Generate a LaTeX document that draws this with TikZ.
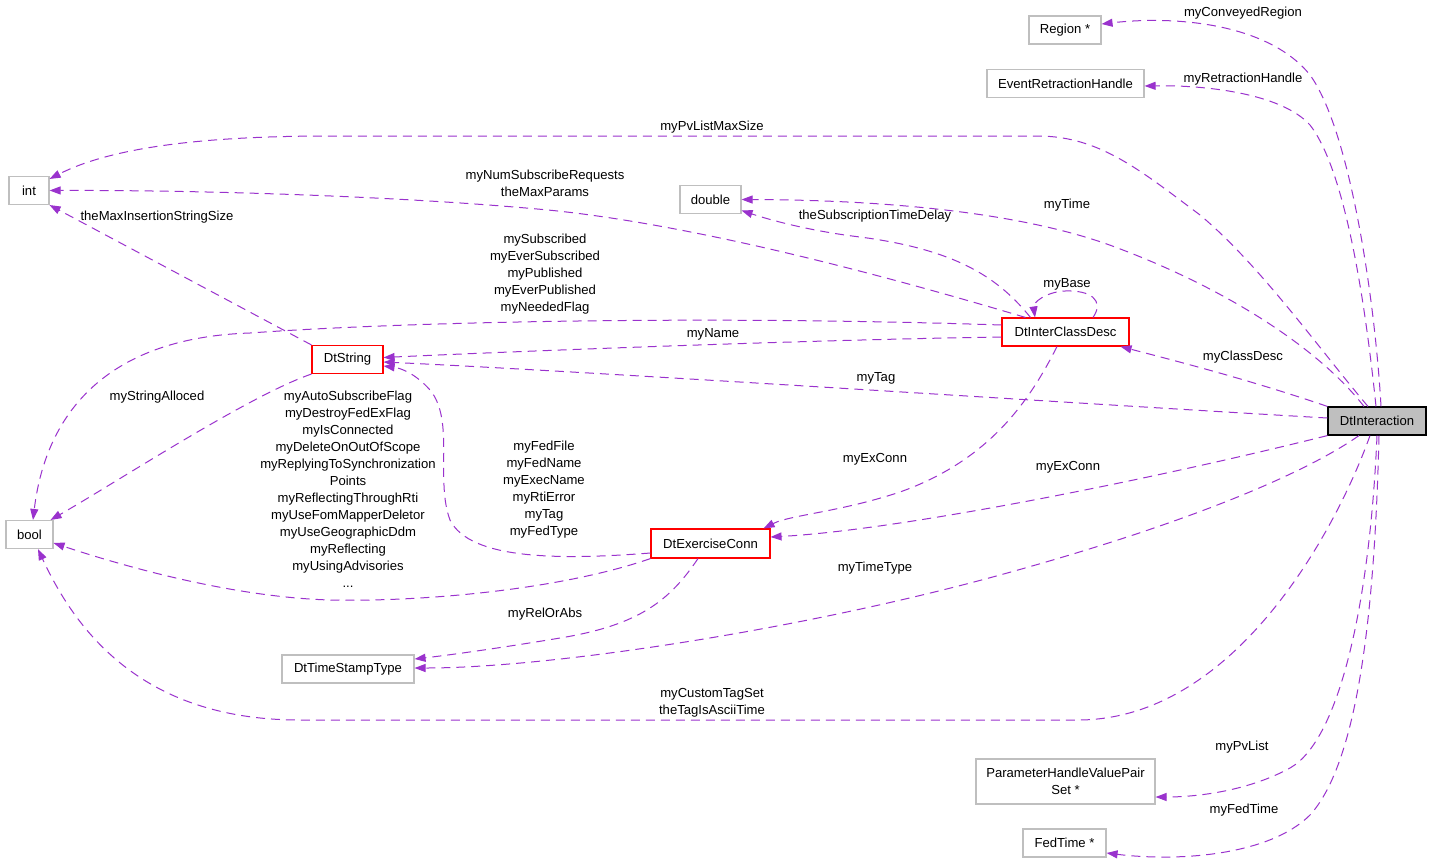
\documentclass[tikz,border=0pt]{standalone}
\usepackage{fontspec}
\setmainfont{Liberation Sans}
\usetikzlibrary{arrows.meta}
\definecolor{edgecol}{HTML}{9A32CD}
\definecolor{boxgrey}{HTML}{BFBFBF}
\begin{document}
\begin{tikzpicture}[x=1pt,y=-1pt,
  every node/.style={font=\fontsize{13.1}{17}\selectfont},
  box/.style={draw=boxgrey, line width=1.1pt, fill=white, inner sep=0pt, minimum height=28pt, align=center},
  redbox/.style={box, draw=red},
  mainbox/.style={box, draw=black, fill=boxgrey},
  lbl/.style={inner sep=0pt, align=center},
  rel/.style={draw=edgecol, line width=1pt, dash pattern=on 9pt off 6pt,
    -{Triangle[length=11pt,width=8pt,fill=edgecol]}}]
\useasboundingbox[fill=white] (0,0) rectangle (1432,865);

% nodes
\node[box, minimum width=72pt] (region) at (1065,30) {Region *};
\node[box, minimum width=157pt] (erh) at (1065.5,83.5) {EventRetractionHandle};
\node[box, minimum width=40pt] (int) at (29,190.5) {int};
\node[box, minimum width=61pt] (double) at (710.5,199.5) {double};
\node[redbox, minimum width=127pt] (dticd) at (1065.5,332) {DtInterClassDesc};
\node[redbox, minimum width=71pt] (dtstring) at (347.5,359.5) {DtString};
\node[mainbox, minimum width=98pt] (dti) at (1377,421) {DtInteraction};
\node[box, minimum width=47pt] (bool) at (29.5,534.5) {bool};
\node[redbox, minimum width=119pt, minimum height=29pt] (dtec) at (710.5,543.5) {DtExerciseConn};
\node[box, minimum width=132pt] (dtsst) at (348,669) {DtTimeStampType};
\node[box, minimum width=179pt, minimum height=45pt] (phvps) at (1065.5,781.5) {ParameterHandleValuePair\\Set *};
\node[box, minimum width=83pt] (fedtime) at (1064.5,843) {FedTime *};

% edges from DtInteraction
\draw[rel] ([xshift=4pt]dti.north) .. controls (1375,300) and (1350,130) .. (1310,75)
  .. controls (1270,25) and (1180,15) .. ([yshift=6pt]region.east);
\draw[rel] ([xshift=-1pt]dti.north) .. controls (1365,300) and (1345,170) .. (1310,125)
  .. controls (1280,92) and (1200,85) .. ([yshift=-2.5pt]erh.east);
\draw[rel] ([xshift=-9pt]dti.north) .. controls (1320,350) and (1260,265) .. (1200,215)
  .. controls (1140,170) and (1100,137) .. (1040,136) -- (330,136)
  .. controls (200,136) and (110,148) .. ([yshift=-3pt]int.north east);
\draw[rel] ([xshift=-13pt]dti.north) .. controls (1320,350) and (1230,290) .. (1115,247)
  .. controls (1030,215) and (900,200) .. (double.east);
\draw[rel] (dti.north west) .. controls (1250,380) and (1180,362) .. ([xshift=-9pt]dticd.south east);
\draw[rel] ([yshift=3pt]dti.west) .. controls (1100,405) and (600,372) .. ([yshift=-2.5pt]dtstring.east);
\draw[rel] (dti.south west) .. controls (1150,480) and (900,530) .. ([yshift=6.5pt]dtec.east);
\draw[rel] ([xshift=-18pt]dti.south) .. controls (1310,470) and (1200,520) .. (1000,575)
  .. controls (800,630) and (550,668) .. ([yshift=1pt]dtsst.east);
\draw[rel] ([xshift=-7pt]dti.south) .. controls (1340,520) and (1240,718) .. (1080,720) -- (300,720)
  .. controls (150,720) and (80,640) .. ([xshift=8.5pt]bool.south);
\draw[rel] (dti.south) .. controls (1370,600) and (1340,740) .. (1290,768)
  .. controls (1250,790) and (1200,797) .. ([yshift=-15.5pt]phvps.east);
\draw[rel] ([xshift=2pt]dti.south) .. controls (1375,600) and (1360,760) .. (1310,815)
  .. controls (1270,855) and (1180,862) .. ([yshift=-10pt]fedtime.east);

% edges from DtInterClassDesc
\draw[rel] ([xshift=27.5pt]dticd.north) .. controls (1105,300) and (1090,290) .. (1065,291)
  .. controls (1045,292) and (1033,303) .. ([xshift=-30.5pt]dticd.north);
\draw[rel] ([xshift=-35pt]dticd.north) .. controls (1000,280) and (960,250) .. (860,237)
  .. controls (810,231) and (770,220) .. ([yshift=-11pt]double.east);
\draw[rel] ([xshift=-40pt]dticd.north) .. controls (900,280) and (700,225) .. (548,210)
  .. controls (400,196) and (200,190) .. (int.east);
\draw[rel] ([yshift=7pt]dticd.west) .. controls (700,315) and (400,322) .. (250,333)
  .. controls (100,338) and (45,420) .. ([xshift=3.5pt]bool.north);
\draw[rel] ([yshift=-5pt]dticd.west) .. controls (800,340) and (500,352) .. ([yshift=2pt]dtstring.east);
\draw[rel] ([xshift=-8.5pt]dticd.south) .. controls (1030,400) and (990,460) .. (900,492)
  .. controls (840,512) and (790,515) .. ([xshift=-7pt]dtec.north east);

% edges from DtString
\draw[rel] (dtstring.north west) -- (int.south east);
\draw[rel] (dtstring.south west) .. controls (250,395) and (120,480) .. ([xshift=-3pt]bool.north east);

% edges from DtExerciseConn
\draw[rel] ([yshift=-9.5pt]dtec.west) .. controls (560,560) and (470,560) .. (450,520)
  .. controls (435,480) and (455,420) .. (430,390)
  .. controls (415,373) and (400,368) .. ([yshift=-6.5pt]dtstring.east);
\draw[rel] (dtec.south west) .. controls (560,590) and (420,602) .. (330,600)
  .. controls (230,597) and (120,565) .. ([yshift=-8.5pt]bool.east);
\draw[rel] ([xshift=-12.5pt]dtec.south) .. controls (670,600) and (640,625) .. (560,638)
  .. controls (500,648) and (450,655) .. ([yshift=10pt]dtsst.east);

% labels
\node[lbl] (lConv) at (1243,13) {myConveyedRegion};
\node[lbl] (lRetr) at (1243,79) {myRetractionHandle};
\node[lbl] (lPvMax) at (712,127) {myPvListMaxSize};
\node[lbl] (lTime) at (1067,205) {myTime};
\node[lbl] (lSubDelay) at (875,216) {theSubscriptionTimeDelay};
\node[lbl] (lNumSub) at (545,183) {myNumSubscribeRequests\\theMaxParams};
\node[lbl] (lMaxIns) at (157,217) {theMaxInsertionStringSize};
\node[lbl] (lSubscr) at (545,274) {mySubscribed\\myEverSubscribed\\myPublished\\myEverPublished\\myNeededFlag};
\node[lbl] (lBase) at (1067,284) {myBase};
\node[lbl] (lName) at (713,334) {myName};
\node[lbl] (lClass) at (1243,357) {myClassDesc};
\node[lbl] (lTag) at (876,378) {myTag};
\node[lbl] (lAlloc) at (157,397) {myStringAlloced};
\node[lbl] (lAuto) at (348,489) {myAutoSubscribeFlag\\myDestroyFedExFlag\\myIsConnected\\myDeleteOnOutOfScope\\myReplyingToSynchronization\\Points\\myReflectingThroughRti\\myUseFomMapperDeletor\\myUseGeographicDdm\\myReflecting\\myUsingAdvisories\\...};
\node[lbl] (lFed) at (544,489.5) {myFedFile\\myFedName\\myExecName\\myRtiError\\myTag\\myFedType};
\node[lbl] (lExL) at (875,459) {myExConn};
\node[lbl] (lExR) at (1068,467) {myExConn};
\node[lbl] (lTT) at (875,568) {myTimeType};
\node[lbl] (lRel) at (545,614) {myRelOrAbs};
\node[lbl] (lCust) at (712,703) {myCustomTagSet\\theTagIsAsciiTime};
\node[lbl] (lPv) at (1242,747) {myPvList};
\node[lbl] (lFedT) at (1244,810) {myFedTime};
\end{tikzpicture}
\end{document}
